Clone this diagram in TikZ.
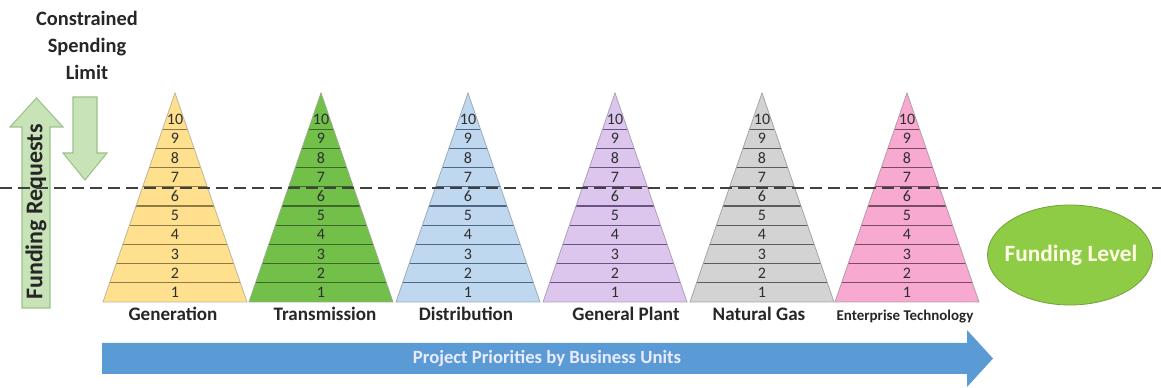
\documentclass[tikz,border=0pt]{standalone}
\usepackage{fontspec}
\setmainfont{Carlito}
\usetikzlibrary{positioning,shapes.geometric}

\definecolor{genfill}{HTML}{FEE08E}
\definecolor{genline}{HTML}{8C7B45}
\definecolor{trnfill}{HTML}{72C04A}
\definecolor{trnline}{HTML}{3C6A28}
\definecolor{disfill}{HTML}{BFD8EF}
\definecolor{disline}{HTML}{4D6784}
\definecolor{gplfill}{HTML}{DCC6EE}
\definecolor{gplline}{HTML}{6B5282}
\definecolor{gasfill}{HTML}{D3D3D3}
\definecolor{gasline}{HTML}{5C5C5C}
\definecolor{entfill}{HTML}{F7A9CF}
\definecolor{entline}{HTML}{7D4A65}
\definecolor{arrowgreen}{HTML}{C9E3B8}
\definecolor{arrowedge}{HTML}{9CC28A}
\definecolor{levelgreen}{HTML}{8FCC45}
\definecolor{priorityblue}{HTML}{5B9BD5}

\begin{document}
\begin{tikzpicture}[x=0.75pt, y=-0.75pt]
  \tikzstyle{rank}=[inner sep=0pt, text=black!82, font=\fontsize{12}{13}\selectfont]
  \tikzstyle{unitname}=[anchor=base, inner sep=0pt, text=black!85, font=\bfseries\fontsize{14.3}{16}\selectfont]
  \tikzstyle{bigarrow}=[fill=arrowgreen, draw=arrowedge, line width=0.8pt]
  \tikzstyle{limitline}=[dash pattern=on 9pt off 4.5pt, line width=1.5pt, draw=black!75]

  \useasboundingbox (0,0) rectangle (1161,388);

  % one pyramid of ten ranked projects per business unit
  \foreach \cx/\fc/\lc/\unit in {175/genfill/genline/gen, 321/trnfill/trnline/trn,
      468/disfill/disline/dis, 615/gplfill/gplline/gpl,
      762/gasfill/gasline/gas, 907/entfill/entline/ent} {
    \coordinate (\unit) at (\cx,302);
    \begin{scope}
      \clip ({\cx-72},302) -- (\cx,93) -- ({\cx+72},302) -- cycle;
      \fill[\fc] ({\cx-72},302) rectangle ({\cx+72},93);
      \foreach \k in {1,...,9}
        \draw[\lc, line width=1pt] ({\cx-72},{302-19.2*\k}) -- ({\cx+72},{302-19.2*\k});
    \end{scope}
    \draw[draw=\lc!55, line width=0.6pt] ({\cx-72},302) -- (\cx,93) -- ({\cx+72},302) -- cycle;
    \foreach \k in {1,...,10}
      \node[rank] (\unit-\k) at (\cx,{302-19.2*(\k-0.5)}) {\k};
  }

  \node[unitname] (genname) at (173,321) {Generation};
  \node[unitname] (trnname) at (325,321) {Transmission};
  \node[unitname] (disname) at (466,321) {Distribution};
  \node[unitname] (gplname) at (626,321) {General Plant};
  \node[unitname] (gasname) at (759,321) {Natural Gas};
  \node[unitname, font=\bfseries\fontsize{11.2}{13}\selectfont] (entname) at (905,321) {Enterprise Technology};

  % requests pushing up, the limit pushing down
  \draw[bigarrow] (22,308) -- (50,308) -- (50,127) -- (63,127) -- (36.5,98)
    -- (10,127) -- (22,127) -- cycle;
  \node[rotate=90, text=black!85, font=\bfseries\fontsize{18}{20}\selectfont]
    (requests) at (36,212) {Funding Requests};
  \draw[bigarrow] (73,97) -- (97,97) -- (97,153) -- (107,153) -- (85,180)
    -- (63,153) -- (73,153) -- cycle;
  \node[align=center, text=black!85, font=\bfseries\fontsize{15.3}{20.25}\selectfont]
    (limit) at (87,45) {Constrained\\Spending\\Limit};

  % funding cut-off across all units
  \coordinate (cutL) at (0,188);
  \coordinate (cutR) at (1161,188);
  \draw[limitline] (cutL) -- (cutR);

  \filldraw[fill=levelgreen, draw=levelgreen!80!black, line width=0.6pt]
    (1070,255) ellipse [x radius=82.5, y radius=50];
  \node[text=yellow!10, font=\bfseries\fontsize{17.5}{19}\selectfont]
    (level) at (1071,255) {Funding Level};

  % priority direction
  \fill[priorityblue] (102,343) -- (967,343) -- (967,330) -- (993,358.5)
    -- (967,387) -- (967,374) -- (102,374) -- cycle;
  \node[text=white!92!blue, font=\bfseries\fontsize{14}{16}\selectfont]
    (priorities) at (547,359) {Project Priorities by Business Units};
\end{tikzpicture}
\end{document}
